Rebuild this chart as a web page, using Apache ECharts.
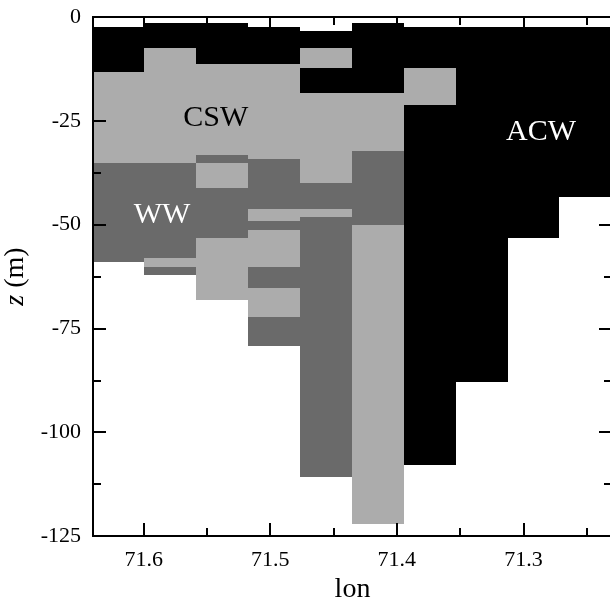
<!DOCTYPE html>
<html>
<head>
<meta charset="utf-8">
<script src="https://cdn.jsdelivr.net/npm/echarts@6/dist/echarts.min.js"></script>
<style>
  html, body { margin: 0; padding: 0; background: #ffffff; }
  #chart { width: 610px; height: 604px; }
</style>
</head>
<body>
<div id="chart"></div>
<script>
// Station longitudes along the section (degrees)
const stationLon = [71.620, 71.579, 71.538, 71.497, 71.456, 71.415, 71.374, 71.333, 71.292, 71.251];

// Water-mass cells: [station index, top z (m), bottom z (m)]
const acwCells = [
  [0, -2.3, -13.2],
  [1, -1.4, -7.4],
  [2, -1.4, -11.2],
  [3, -2.3, -11.2],
  [4, -3.3, -7.4],
  [4, -12.4, -18.2],
  [5, -1.4, -18.2],
  [6, -2.3, -12.4],
  [6, -21.2, -107.9],
  [7, -2.3, -88.0],
  [8, -2.3, -53.2],
  [9, -2.3, -43.3]
];
const cswCells = [
  [0, -13.2, -35.2],
  [1, -7.4, -35.2],
  [1, -58.1, -60.1],
  [2, -11.2, -33.2],
  [2, -35.2, -41.3],
  [2, -53.3, -68.2],
  [3, -11.2, -34.3],
  [3, -46.2, -49.1],
  [3, -51.3, -60.1],
  [3, -65.2, -72.2],
  [4, -7.4, -12.4],
  [4, -18.2, -40.1],
  [4, -46.2, -48.1],
  [5, -18.2, -32.3],
  [5, -50.1, -122.0],
  [6, -12.4, -21.2]
];
const wwCells = [
  [0, -35.2, -58.9],
  [1, -35.2, -58.1],
  [1, -60.1, -62.1],
  [2, -33.2, -35.2],
  [2, -41.3, -53.3],
  [3, -34.3, -46.2],
  [3, -49.1, -51.3],
  [3, -60.1, -65.2],
  [3, -72.2, -79.2],
  [4, -40.1, -46.2],
  [4, -48.1, -110.9],
  [5, -32.3, -50.1]
];

// Water-mass names and where they are written (lon, z)
const massNames = ['CSW', 'WW', 'ACW'];
const massLabelLon = [71.543, 71.5855, 71.286];
const massLabelZ = [-24.3, -47.7, -27.7];

// Axis ticks
const lonTicks = [71.6, 71.5, 71.4, 71.3];
const lonMinorTicks = [71.55, 71.45, 71.35, 71.25];

const SERIF = "'Liberation Serif', 'Times New Roman', serif";
const massColor = { ACW: '#000000', CSW: '#acacac', WW: '#6a6a6a' };
const massTextColor = { CSW: '#000000', WW: '#ffffff', ACW: '#ffffff' };

// Longitude decreases to the right
const LON_WEST = 71.64, LON_EAST = 71.23;

// Column edges: halfway between neighbouring stations, end columns mirrored
function columnEdges(i) {
  const n = stationLon.length;
  const prev = i > 0 ? stationLon[i - 1] : 2 * stationLon[0] - stationLon[1];
  const next = i < n - 1 ? stationLon[i + 1] : 2 * stationLon[n - 1] - stationLon[n - 2];
  return [(prev + stationLon[i]) / 2, (stationLon[i] + next) / 2];
}

function cellSeries(name, cells) {
  const color = massColor[name];
  return {
    type: 'custom',
    name: name,
    xAxisIndex: 0,
    yAxisIndex: 0,
    silent: true,
    z: 1,
    data: cells.map(c => [stationLon[c[0]], c[1], c[2], c[0]]),
    encode: { x: 0, y: [1, 2] },
    renderItem: function (params, api) {
      const edges = columnEdges(api.value(3));
      const a = api.coord([edges[0], api.value(1)]);
      const b = api.coord([edges[1], api.value(2)]);
      // snap edges to whole pixels so neighbouring cells meet without seams
      const x0 = Math.round(Math.min(a[0], b[0]));
      const x1 = Math.round(Math.max(a[0], b[0]));
      const y0 = Math.round(Math.min(a[1], b[1]));
      const y1 = Math.round(Math.max(a[1], b[1]));
      const cs = params.coordSys;
      const shape = echarts.graphic.clipRectByRect(
        { x: x0, y: y0, width: x1 - x0, height: y1 - y0 },
        { x: cs.x, y: cs.y, width: cs.width, height: cs.height }
      );
      if (!shape) return null;
      return {
        type: 'rect',
        shape: shape,
        style: { fill: color }
      };
    }
  };
}

const labelSeries = {
  type: 'custom',
  xAxisIndex: 0,
  yAxisIndex: 0,
  silent: true,
  z: 3,
  data: massNames.map((n, i) => [massLabelLon[i], massLabelZ[i]]),
  encode: { x: 0, y: 1 },
  renderItem: function (params, api) {
    const p = api.coord([api.value(0), api.value(1)]);
    const name = massNames[params.dataIndex];
    return {
      type: 'text',
      x: p[0],
      y: p[1],
      style: {
        text: name,
        fill: massTextColor[name],
        font: '30px ' + SERIF,
        align: 'center',
        verticalAlign: 'middle'
      }
    };
  }
};

const axisLineStyle = { color: '#000', width: 2 };

function lonAxis(position, ticks, len, withLabels) {
  const ax = {
    type: 'value',
    position: position,
    inverse: true,
    min: LON_EAST,
    max: LON_WEST,
    z: 5,
    axisLine: { show: true, onZero: false, lineStyle: axisLineStyle },
    axisTick: { show: true, inside: true, length: len, customValues: ticks, lineStyle: { color: '#000', width: 2 } },
    axisLabel: { show: false },
    splitLine: { show: false }
  };
  if (withLabels) {
    ax.axisLabel = {
      show: true,
      customValues: ticks,
      formatter: v => Number(v).toFixed(1),
      color: '#000',
      fontFamily: SERIF,
      fontSize: 22,
      margin: 13
    };
    ax.name = 'lon';
    ax.nameLocation = 'middle';
    ax.nameGap = 40;
    ax.nameTextStyle = { color: '#000', fontFamily: SERIF, fontSize: 28 };
  }
  return ax;
}

function depthAxis(position, withLabels) {
  const ax = {
    type: 'value',
    position: position,
    min: -125,
    max: 0,
    interval: 25,
    z: 5,
    axisLine: { show: true, onZero: false, lineStyle: axisLineStyle },
    axisTick: { show: true, inside: true, length: 13, lineStyle: { color: '#000', width: 2 } },
    minorTick: { show: true, splitNumber: 2, length: 8, lineStyle: { color: '#000', width: 2 } },
    axisLabel: { show: false },
    splitLine: { show: false },
    minorSplitLine: { show: false }
  };
  if (withLabels) {
    ax.axisLabel = {
      show: true,
      color: '#000',
      fontFamily: SERIF,
      fontSize: 22,
      margin: 12
    };
    ax.name = '{it|z} (m)';
    ax.nameLocation = 'middle';
    ax.nameRotate = 90;
    ax.nameGap = 44;
    ax.nameTextStyle = {
      color: '#000',
      fontFamily: SERIF,
      fontSize: 28,
      rich: {
        it: { fontStyle: 'italic', fontFamily: SERIF, fontSize: 28, color: '#000' }
      }
    };
  }
  return ax;
}

const chart = echarts.init(document.getElementById('chart'), null, { renderer: 'canvas' });
chart.setOption({
  animation: false,
  backgroundColor: '#ffffff',
  grid: { left: 93, top: 17, width: 519, height: 519, containLabel: false, outerBoundsMode: 'none' },
  xAxis: [
    lonAxis('bottom', lonTicks, 13, true),
    lonAxis('bottom', lonMinorTicks, 8, false),
    lonAxis('top', lonTicks, 13, false),
    lonAxis('top', lonMinorTicks, 8, false)
  ],
  yAxis: [
    depthAxis('left', true),
    depthAxis('right', false)
  ],
  series: [
    cellSeries('ACW', acwCells),
    cellSeries('CSW', cswCells),
    cellSeries('WW', wwCells),
    labelSeries
  ]
});
</script>
</body>
</html>
